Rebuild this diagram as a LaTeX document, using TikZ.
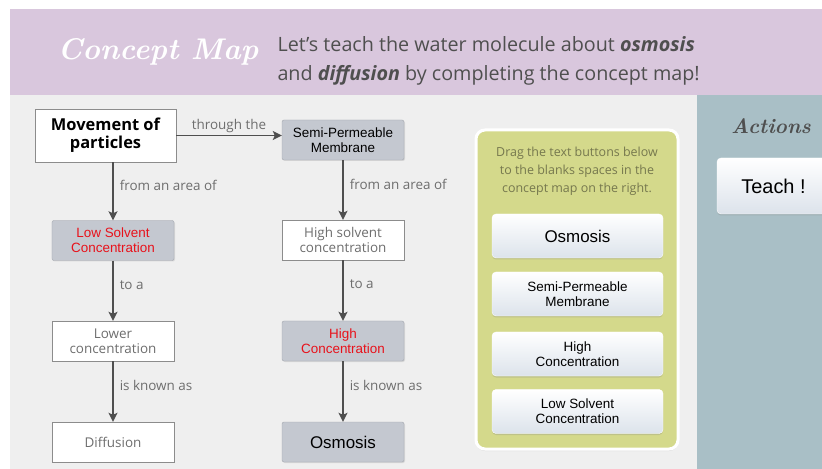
\documentclass[tikz,border=0pt]{standalone}
\usepackage{fontspec}
\newfontfamily\opensans{Open Sans}
\newfontfamily\arialfont{Liberation Sans}
\usetikzlibrary{positioning,shadows,arrows.meta}

\definecolor{headerbg}{HTML}{D9C7DD}
\definecolor{pagebg}{HTML}{EFEFEF}
\definecolor{sidebg}{HTML}{A9BFC6}
\definecolor{panelbg}{HTML}{D4D98B}
\definecolor{slotgrey}{HTML}{C4C8D0}
\definecolor{slotline}{HTML}{A3A7AF}
\definecolor{boxline}{HTML}{8C8C8C}
\definecolor{linkgrey}{HTML}{4F4F4F}
\definecolor{labelgrey}{HTML}{6E6E6E}
\definecolor{hinttext}{HTML}{76784E}
\definecolor{hotred}{HTML}{E8121B}
\definecolor{btnbottom}{HTML}{DCE3EB}

\newcommand\boxfont{\arialfont\fontsize{13.5}{15}\selectfont}
\newcommand\mapfont{\opensans\fontsize{13.5}{15.5}\selectfont}

\begin{document}
\begin{tikzpicture}[
		x=1bp, y=-1bp,
		concept/.style={draw=boxline, fill=white, minimum width=122bp, minimum height=40bp, align=center,
			text=labelgrey, font=\mapfont, drop shadow={opacity=0.2, shadow xshift=1bp, shadow yshift=-1bp}},
		slot/.style={draw=slotline, fill=slotgrey, rounded corners=2bp, minimum width=122bp, minimum height=40bp,
			align=center, font=\boxfont, drop shadow={opacity=0.2, shadow xshift=1bp, shadow yshift=-1bp}},
		hot/.style={text=hotred},
		link/.style={draw=linkgrey, line width=1.5bp, -{Stealth[length=9bp, width=9bp, inset=2bp]}},
		linklabel/.style={text=labelgrey, font=\mapfont, inner sep=2bp},
		button/.style={rounded corners=4bp, top color=white, bottom color=btnbottom, draw=white, minimum width=171bp,
			minimum height=44bp, align=center, font=\boxfont, drop shadow={opacity=0.25, shadow xshift=0bp, shadow yshift=-1.5bp}},
		script/.style={font=\bfseries\itshape\fontsize{#1}{#1}\selectfont},
		]
		\useasboundingbox (0,0) rectangle (822,469);
		\clip (0,0) rectangle (822,469);
		% backgrounds
		\fill[white] (0,0) rectangle (822,469);
		\fill[headerbg] (10,9) rectangle (822,95);
		\fill[pagebg] (10,95) rectangle (697,469);
		\fill[sidebg] (697,95) rectangle (822,469);

		% header
		\node[text=white, script=30] (title) at (158,52) {Concept Map};
		\node[anchor=west, align=left, text=linkgrey, font=\opensans\fontsize{19.8}{29}\selectfont] (intro) at (274,61)
			{Let’s teach the water molecule about \textbf{\textit{osmosis}}\\and \textbf{\textit{diffusion}} by completing the concept map!};

		% concept map
		\node[concept, minimum width=141bp, minimum height=53bp, text=black, font=\opensans\bfseries\fontsize{16.5}{18}\selectfont]
			(movement) at (105.5,135.5) {Movement of\\particles};
		\node[slot] (semi) at (343,140) {Semi-Permeable\\Membrane};
		\node[slot, hot] (lowsolv) at (113,240.5) {Low Solvent\\Concentration};
		\node[concept] (highsolv) at (343,240) {High solvent\\concentration};
		\node[concept] (lower) at (113,341) {Lower\\concentration};
		\node[slot, hot] (highconc) at (343,341) {High\\Concentration};
		\node[concept] (diffusion) at (113,442) {Diffusion};
		\node[slot, font=\arialfont\fontsize{17}{17}\selectfont] (osmosis) at (343,442) {Osmosis};

		\draw[link] (movement) -- (movement -| semi.west) node[midway, above, linklabel] {through the};
		\draw[link] (movement.south -| lowsolv.north) -- (lowsolv.north) node[pos=0.4, right=4bp, linklabel] {from an area of};
		\draw[link] (lowsolv) -- (lower) node[pos=0.4, right=4bp, linklabel] {to a};
		\draw[link] (lower) -- (diffusion) node[pos=0.4, right=4bp, linklabel] {is known as};
		\draw[link] (semi) -- (highsolv) node[pos=0.4, right=4bp, linklabel] {from an area of};
		\draw[link] (highsolv) -- (highconc) node[pos=0.4, right=4bp, linklabel] {to a};
		\draw[link] (highconc) -- (osmosis) node[pos=0.4, right=4bp, linklabel] {is known as};

		% drag panel
		\draw[fill=panelbg, draw=white, line width=3bp, rounded corners=9bp,
			drop shadow={opacity=0.15, shadow xshift=0bp, shadow yshift=-2bp}] (476,130) rectangle (678,449);
		\node[align=center, text=hinttext, font=\opensans\fontsize{12.5}{18}\selectfont] (hint) at (577,171)
			{Drag the text buttons below\\to the blanks spaces in the\\concept map on the right.};
		\node[button, font=\arialfont\fontsize{17}{17}\selectfont] (btnosmosis) at (577.5,236) {Osmosis};
		\node[button] (btnsemi) at (577.5,294) {Semi-Permeable\\Membrane};
		\node[button] (btnhigh) at (577.5,354) {High\\Concentration};
		\node[button] (btnlow) at (577.5,411.5) {Low Solvent\\Concentration};

		% actions
		\node[text=linkgrey, script=21] (actions) at (771,126) {Actions};
		\node[button, minimum width=113bp, minimum height=56bp, font=\arialfont\fontsize{20}{20}\selectfont]
			(teach) at (773.5,186) {Teach !};
	\end{tikzpicture}
\end{document}
